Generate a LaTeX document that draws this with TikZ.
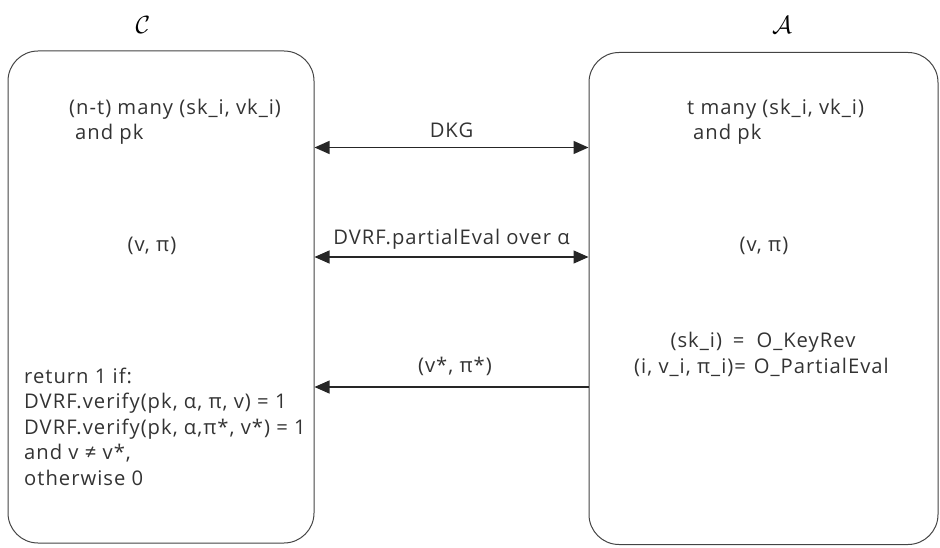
\documentclass[tikz,border=0pt]{standalone}
\usepackage{fontspec}
\setmainfont{Open Sans}[LetterSpace=5]
\usetikzlibrary{arrows.meta}
\definecolor{ink}{HTML}{333333}
\definecolor{edge}{HTML}{444444}
\begin{document}
\begin{tikzpicture}[x=1pt,y=-1pt,
  party/.style={draw=edge, line width=1pt, rounded corners=30pt, inner sep=0pt},
  txt/.style={text=ink, font=\fontsize{20.2}{26}\selectfont, inner sep=0pt},
  ln/.style={txt, anchor=base west},
  lc/.style={txt, anchor=base},
  role/.style={inner sep=0pt, font=\fontsize{30}{30}\selectfont},
  msg/.style={draw=black!85, line width=1.3pt},
  tip/.style={-{Triangle[length=15pt,width=13pt]}},
  bitip/.style={{Triangle[length=15pt,width=13pt]}-{Triangle[length=15pt,width=13pt]}},
]
\useasboundingbox (0,0) rectangle (940,548);

% the two parties
\node[party, minimum width=306pt, minimum height=492pt] (cbox) at (161,297) {};
\node[party, minimum width=349pt, minimum height=492pt] (abox) at (763.5,298.5) {};
\node[role] (clabel) at (143,25) {$\mathcal{C}$};
\node[role] (alabel) at (782,25) {$\mathcal{A}$};

% challenger state
\node[ln] (ckeys) at (69,115) {(n-t) many (sk\_i, vk\_i)};
\node[ln] (cpk) at (75,140) {and pk};
\node[lc] (cout) at (152,252) {(v, π)};
\node[ln] (cwin1) at (24,383) {return 1 if:};
\node[ln] (cwin2) at (24,408) {DVRF.verify(pk, α, π, v) = 1};
\node[ln] (cwin3) at (24,434) {DVRF.verify(pk, α,π*, v*) = 1};
\node[ln] (cwin4) at (24,459) {and v ≠ v*,};
\node[ln] (cwin5) at (24,485) {otherwise 0};

% adversary state
\node[ln] (akeys) at (687,115) {t many (sk\_i, vk\_i)};
\node[ln] (apk) at (693,140) {and pk};
\node[lc] (aout) at (764,252) {(v, π)};
\node[lc] (orev) at (763,347) {(sk\_i)\hspace{11pt}=\hspace{12pt}O\_KeyRev};
\node[lc] (oeval) at (761.5,373) {(i, v\_i, π\_i)=\hspace{8pt}O\_PartialEval};

% messages
\draw[msg, bitip] (cbox.east |- 0,147.5) -- node[lc, yshift=9.8pt] (dkg) {DKG} (abox.west |- 0,147.5);
\draw[msg, bitip] (cbox.east |- 0,257) -- node[lc, yshift=12.5pt] (peval) {DVRF.partialEval over α} (abox.west |- 0,257);
\draw[msg, tip] (abox.west |- 0,387) -- node[lc, yshift=15pt, xshift=3.5pt] (forge) {(v*, π*)} (cbox.east |- 0,387);
\end{tikzpicture}
\end{document}
